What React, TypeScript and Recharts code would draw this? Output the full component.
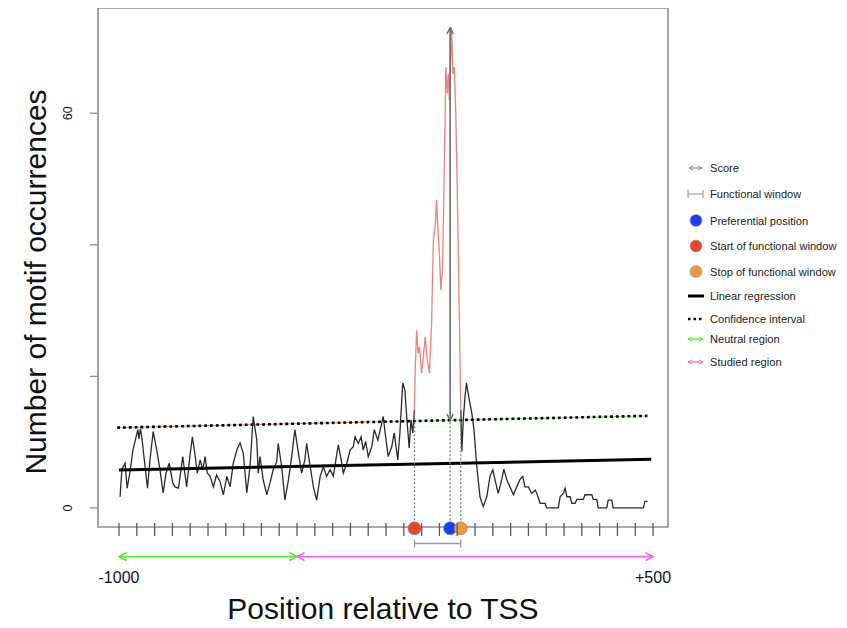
import React from 'react';
import {
  ComposedChart,
  Line,
  XAxis,
  YAxis,
  ReferenceLine,
  ReferenceDot,
  ReferenceArea,
  Legend,
  Label,
} from 'recharts';

const FONT = '"Liberation Sans", Arial, Helvetica, sans-serif';

// Motif occurrence profile: position relative to the TSS (bp) and occurrences
const profilePos = [
  -997, -992, -983, -977, -969, -961, -947, -944, -940, -936, -932, -920, -913, -904, -894, -885,
  -876, -868, -859, -849, -843, -833, -821, -810, -801, -794, -787, -780, -772, -765, -758, -752,
  -744, -735, -726, -716, -707, -697, -688, -679, -669, -660, -651, -641, -632, -623, -613, -609,
  -604, -595, -585, -576, -567, -557, -553, -543, -534, -524, -515, -506, -496, -487, -478, -473,
  -463, -454, -445, -435, -426, -417, -407, -398, -388, -384, -376, -370, -360, -351, -342, -337,
  -328, -320, -314, -307, -300, -290, -283, -273, -264, -258, -251, -244, -234, -227, -217, -211,
  -203, -197, -192, -185, -180, -175, -170,
  -168, -164, -160, -156, -150, -145, -140, -134, -128, -122, -117, -112, -108, -104, -100, -96,
  -91, -86, -82, -78, -75, -72, -69, -66, -62, -58, -54, -51, -47, -40,
  -37, -33, -28, -24, -16, -9, -3, 5, 14, 23, 33, 42, 50, 56, 65, 75, 81, 89, 98, 108, 117, 126,
  134, 140, 150, 159, 169, 175, 183, 197, 201, 234, 239, 248, 253, 258, 267, 272, 281, 286, 304,
  309, 328, 332, 342, 346, 370, 374, 384, 388, 473, 477, 484,
];
const profileCount = [
  1.7, 5.8, 6.8, 3.0, 5.5, 8.8, 11.9, 10.5, 12.0, 10.8, 8.8, 3.0, 7.3, 11.6, 8.8, 5.8,
  2.3, 5.3, 6.8, 3.8, 3.2, 3.0, 7.8, 3.2, 7.8, 10.8, 8.3, 5.3, 7.3, 5.8, 7.8, 5.3,
  4.8, 3.2, 5.0, 4.0, 2.0, 4.8, 3.2, 6.8, 8.8, 9.9, 8.3, 2.3, 6.3, 13.9, 10.3, 5.3,
  7.8, 4.3, 2.0, 3.8, 5.8, 7.0, 9.8, 6.3, 1.2, 4.3, 7.8, 11.9, 8.3, 5.3, 7.3, 9.8,
  6.3, 3.2, 1.2, 4.8, 6.3, 4.8, 5.8, 4.8, 8.3, 9.6, 7.3, 5.3, 6.8, 8.8, 9.3, 10.8,
  9.8, 10.8, 8.8, 10.1, 7.8, 9.3, 11.9, 10.3, 12.4, 13.9, 10.8, 7.8, 9.3, 11.4, 7.3, 11.4,
  19.0, 17.9, 13.9, 9.1, 13.4, 11.4, 14.9,
  21.0, 27.0, 23.5, 24.5, 20.5, 23.0, 26.0, 22.5, 20.5, 28.0, 40.7, 43.0, 46.8, 42.0, 38.7, 33.1,
  36.7, 52.9, 67.0, 63.0, 66.0, 62.0, 67.0, 73.0, 66.0, 67.0, 60.0, 51.4, 39.0, 14.9,
  8.6, 13.5, 17.0, 19.0, 16.4, 14.4, 11.9, 6.3, 1.7, 0.2, 1.7, 4.8, 5.8, 4.3, 2.2, 4.3, 5.9, 4.3, 3.2, 2.0, 3.2, 4.3,
  4.8, 3.2, 3.2, 2.2, 2.7, 2.0, 0.7, 0.7, 0, 0, 1.7, 2.2, 3.0, 1.7, 1.7, 0.7, 0.7, 1.3, 1.3,
  2.0, 2.0, 1.3, 1.3, 0, 0, 1.2, 1.2, 0, 0, 1.0, 1.0,
];

// Functional window and preferential position (bp)
const windowStart = -170;
const windowStop = -40;
const preferentialPos = -70;

// Linear regression and upper confidence bound
const regressionPos = [-1000, 495];
const regressionCount = [5.75, 7.4];
const confidencePos = [-1005, 484];
const confidenceCount = [12.2, 14.0];
const confidenceColourSplit = -300;

// Neutral and studied regions (bp)
const neutralRegion = [-1000, -500];
const studiedRegion = [-500, 500];

// Axis ticks and their labels
const xTicks = [
  -1000, -950, -900, -850, -800, -750, -700, -650, -600, -550, -500, -450, -400, -350, -300, -250,
  -200, -150, -100, -50, 0, 50, 100, 150, 200, 250, 300, 350, 400, 450, 500,
];
const xTickLabels: Record<string, string> = { '-1000': '-1000', '500': '+500' };
const yTicks = [0, 20, 40, 60];
const yTickLabels: Record<string, string> = { '0': '0', '60': '60' };

const legendLabels = [
  'Score',
  'Functional window',
  'Preferential position',
  'Start of functional window',
  'Stop of functional window',
  'Linear regression',
  'Confidence interval',
  'Neutral region',
  'Studied region',
];

// ---- layout ----
const X_DOMAIN: [number, number] = [-1059, 542];
const Y_DOMAIN: [number, number] = [-2.9, 76];
// vertical placement (count units) of marks drawn below the plot frame
const DOT_Y = -3.1;
const BRACKET_Y = -5.4;
const REGION_Y = -7.4;

const COL = {
  curve: '#2a2a2a',
  peak: '#ee4a3a',
  frame: '#8e8e8e',
  score: '#6a6a6a',
  guide: '#7a7a7a',
  bracket: '#9a9a9a',
  blue: '#1d3cf5',
  red: '#e8442e',
  orange: '#f0993c',
  green: '#52ee2c',
  magenta: '#ef68ef',
};

const profile = profilePos.map((pos, i) => ({ pos, count: profileCount[i] }));
const upstream = profile.filter((d) => d.pos <= windowStart);
const functional = profile.filter((d) => d.pos >= windowStart && d.pos <= windowStop);
const downstream = profile.filter((d) => d.pos >= windowStop);

const regression = regressionPos.map((pos, i) => ({ pos, count: regressionCount[i] }));
const confidence = confidencePos.map((pos, i) => ({ pos, count: confidenceCount[i] }));

const confidenceAt = (pos: number) =>
  confidenceCount[0] +
  ((confidenceCount[1] - confidenceCount[0]) * (pos - confidencePos[0])) /
    (confidencePos[1] - confidencePos[0]);
const countAt = (pos: number) => profile.find((d) => d.pos === pos)?.count ?? 0;

const confidenceLeft = [confidence[0], { pos: confidenceColourSplit, count: confidenceAt(confidenceColourSplit) }];
const confidenceRight = [{ pos: confidenceColourSplit, count: confidenceAt(confidenceColourSplit) }, confidence[1]];

const peakCount = Math.max(...profileCount);

const XTick = (props: any) => {
  const { x, y, payload } = props;
  const label = xTickLabels[String(payload.value)];
  return (
    <g>
      <line x1={x} x2={x} y1={y - 4} y2={y + 9} stroke="#5a5a5a" strokeWidth={1.3} />
      {label && (
        <text x={x} y={y + 56} textAnchor="middle" fontSize={16} fontFamily={FONT} fill="#111">
          {label}
        </text>
      )}
    </g>
  );
};

const YTick = (props: any) => {
  const { x, y, payload } = props;
  const label = yTickLabels[String(payload.value)];
  if (!label) return <g />;
  return (
    <text
      x={x}
      y={y}
      transform={`rotate(-90 ${x} ${y})`}
      textAnchor="middle"
      fontSize={12.5}
      fontFamily={FONT}
      fill="#111"
    >
      {label}
    </text>
  );
};

const XTitle = (props: any) => {
  const vb = props.viewBox;
  return (
    <text x={vb.x + vb.width / 2} y={619} textAnchor="middle" fontSize={30} fontFamily={FONT} fill="#111">
      Position relative to TSS
    </text>
  );
};

const YTitle = () => (
  <text x={46} y={282} transform="rotate(-90 46 282)" textAnchor="middle" fontSize={30} fontFamily={FONT} fill="#111">
    Number of motif occurrences
  </text>
);

const doubleArrow = (marker: string, colour: string, width: number) => (p: any) => (
  <line
    x1={p.x1}
    y1={p.y1}
    x2={p.x2}
    y2={p.y2}
    stroke={colour}
    strokeWidth={width}
    markerStart={`url(#${marker})`}
    markerEnd={`url(#${marker})`}
  />
);

const legendRowY = [18, 44, 70.5, 96, 121.5, 146, 169, 189, 212];

const legendIcon = (i: number, cy: number) => {
  const x0 = 8;
  const x1 = 23;
  switch (i) {
    case 0:
      return <line x1={x0 + 1} x2={x1 - 1} y1={cy} y2={cy} stroke="#8a8a8a" strokeWidth={1.2} markerStart="url(#mk-lg-grey)" markerEnd="url(#mk-lg-grey)" />;
    case 1:
      return (
        <g stroke="#a0a0a0" strokeWidth={1.2}>
          <line x1={x0} x2={x1} y1={cy} y2={cy} />
          <line x1={x0} x2={x0} y1={cy - 4} y2={cy + 4} />
          <line x1={x1} x2={x1} y1={cy - 4} y2={cy + 4} />
        </g>
      );
    case 2:
      return <circle cx={16} cy={cy} r={6} fill={COL.blue} stroke="#999" strokeWidth={0.6} />;
    case 3:
      return <circle cx={16} cy={cy} r={6} fill={COL.red} stroke="#999" strokeWidth={0.6} />;
    case 4:
      return <circle cx={16} cy={cy} r={6} fill={COL.orange} stroke="#999" strokeWidth={0.6} />;
    case 5:
      return <line x1={x0} x2={x1 + 1} y1={cy} y2={cy} stroke="#000" strokeWidth={3} />;
    case 6:
      return <line x1={x0} x2={x1 + 1} y1={cy} y2={cy} stroke="#000" strokeWidth={2.5} strokeDasharray="2.5 3" />;
    case 7:
      return <line x1={x0} x2={x1} y1={cy} y2={cy} stroke={COL.green} strokeWidth={1.3} markerStart="url(#mk-lg-green)" markerEnd="url(#mk-lg-green)" />;
    default:
      return <line x1={x0} x2={x1} y1={cy} y2={cy} stroke={COL.magenta} strokeWidth={1.3} markerStart="url(#mk-lg-magenta)" markerEnd="url(#mk-lg-magenta)" />;
  }
};

const renderLegend = () => (
  <svg width={167} height={230} style={{ display: 'block', overflow: 'visible' }}>
    {legendLabels.map((label, i) => (
      <g key={label}>
        {legendIcon(i, legendRowY[i])}
        <text x={30} y={legendRowY[i] + 4} fontSize={11.1} fontFamily={FONT} fill="#222">
          {label}
        </text>
      </g>
    ))}
  </svg>
);

const chevron = (id: string, colour: string, size: number, width: number) => (
  <marker
    id={id}
    viewBox="0 0 10 10"
    refX={9.3}
    refY={5}
    markerWidth={size}
    markerHeight={size}
    markerUnits="userSpaceOnUse"
    orient="auto-start-reverse"
  >
    <path d="M2.5,1.5 L9.3,5 L2.5,8.5" fill="none" stroke={colour} strokeWidth={width} />
  </marker>
);

const MarkerDefs = () => (
  <svg width={0} height={0} style={{ position: 'absolute', left: 0, top: 0 }}>
    <defs>
      {chevron('mk-score', COL.score, 9, 1.6)}
      {chevron('mk-green', COL.green, 11, 1.4)}
      {chevron('mk-magenta', COL.magenta, 11, 1.4)}
      {chevron('mk-lg-grey', '#8a8a8a', 6, 1.6)}
      {chevron('mk-lg-green', COL.green, 6, 1.6)}
      {chevron('mk-lg-magenta', COL.magenta, 6, 1.6)}
      <marker
        id="mk-cap"
        viewBox="0 0 10 10"
        refX={5}
        refY={5}
        markerWidth={9}
        markerHeight={9}
        markerUnits="userSpaceOnUse"
        orient="auto"
      >
        <path d="M5,0.5 L5,9.5" stroke={COL.bracket} strokeWidth={1.4} />
      </marker>
    </defs>
  </svg>
);

export default function App() {
  return (
    <div style={{ position: 'relative', margin: '-8px 0 0 -8px', width: 847, height: 628, background: '#fff' }}>
      <MarkerDefs />
      <ComposedChart
        width={847}
        height={628}
        margin={{ top: 8, right: 179, bottom: 21, left: 8 }}
        style={{ fontFamily: FONT, overflow: 'visible' }}
      >
        <XAxis
          type="number"
          dataKey="pos"
          domain={X_DOMAIN}
          allowDataOverflow
          ticks={xTicks}
          interval={0}
          height={80}
          tickSize={0}
          tickMargin={0}
          axisLine={false}
          tickLine={false}
          tick={XTick}
        >
          <Label content={XTitle} />
        </XAxis>
        <YAxis
          type="number"
          domain={Y_DOMAIN}
          allowDataOverflow
          ticks={yTicks}
          interval={0}
          width={90}
          tickSize={8}
          tickMargin={18}
          axisLine={false}
          tickLine={{ stroke: COL.frame, strokeWidth: 1.3 }}
          tick={YTick}
        >
          <Label content={YTitle} />
        </YAxis>

        <ReferenceArea
          x1={X_DOMAIN[0]}
          x2={X_DOMAIN[1]}
          y1={Y_DOMAIN[0]}
          y2={Y_DOMAIN[1]}
          fill="none"
          stroke={COL.frame}
          strokeWidth={1.6}
          ifOverflow="visible"
        />

        {/* confidence bound: faint coloured trace beneath the dotted line */}
        <Line data={confidenceLeft} dataKey="count" stroke="#f08080" strokeWidth={1} dot={false} activeDot={false} isAnimationActive={false} />
        <Line data={confidenceRight} dataKey="count" stroke="#7be870" strokeWidth={1} dot={false} activeDot={false} isAnimationActive={false} />

        <Line data={upstream} dataKey="count" stroke={COL.curve} strokeWidth={1.3} dot={false} activeDot={false} isAnimationActive={false} />
        <Line data={downstream} dataKey="count" stroke={COL.curve} strokeWidth={1.3} dot={false} activeDot={false} isAnimationActive={false} />
        <Line data={functional} dataKey="count" stroke={COL.peak} strokeOpacity={0.7} strokeWidth={1.3} dot={false} activeDot={false} isAnimationActive={false} />

        <Line data={regression} dataKey="count" stroke="#000" strokeWidth={3} dot={false} activeDot={false} isAnimationActive={false} />
        <Line data={confidence} dataKey="count" stroke="#000" strokeWidth={2.6} strokeDasharray="2.8 3" dot={false} activeDot={false} isAnimationActive={false} />

        {/* guides from the window positions down to the axis */}
        <ReferenceLine
          segment={[{ x: windowStart, y: DOT_Y }, { x: windowStart, y: countAt(windowStart) }]}
          stroke={COL.guide}
          strokeWidth={1.3}
          strokeDasharray="2 2"
          ifOverflow="visible"
        />
        <ReferenceLine
          segment={[{ x: preferentialPos, y: DOT_Y }, { x: preferentialPos, y: confidenceAt(preferentialPos) }]}
          stroke={COL.guide}
          strokeWidth={1.3}
          strokeDasharray="2 2"
          ifOverflow="visible"
        />
        <ReferenceLine
          segment={[{ x: windowStop, y: DOT_Y }, { x: windowStop, y: countAt(windowStop) }]}
          stroke={COL.guide}
          strokeWidth={1.3}
          strokeDasharray="2 2"
          ifOverflow="visible"
        />

        {/* score: from the confidence bound up to the peak */}
        <ReferenceLine
          segment={[{ x: preferentialPos, y: confidenceAt(preferentialPos) }, { x: preferentialPos, y: peakCount }]}
          ifOverflow="visible"
          shape={doubleArrow('mk-score', COL.score, 1.6)}
        />

        {/* functional window bracket */}
        <ReferenceLine
          segment={[{ x: windowStart, y: BRACKET_Y }, { x: windowStop, y: BRACKET_Y }]}
          ifOverflow="visible"
          shape={(p: any) => (
            <line x1={p.x1} y1={p.y1} x2={p.x2} y2={p.y2} stroke={COL.bracket} strokeWidth={1.4} markerStart="url(#mk-cap)" markerEnd="url(#mk-cap)" />
          )}
        />

        {/* neutral and studied regions */}
        <ReferenceLine
          segment={[{ x: neutralRegion[0], y: REGION_Y }, { x: neutralRegion[1], y: REGION_Y }]}
          ifOverflow="visible"
          shape={doubleArrow('mk-green', COL.green, 1.8)}
        />
        <ReferenceLine
          segment={[{ x: studiedRegion[0], y: REGION_Y }, { x: studiedRegion[1], y: REGION_Y }]}
          ifOverflow="visible"
          shape={doubleArrow('mk-magenta', COL.magenta, 1.8)}
        />

        <ReferenceDot x={windowStart} y={DOT_Y} r={6.5} fill={COL.red} stroke="#8a8a8a" strokeWidth={0.7} ifOverflow="visible" />
        <ReferenceDot x={preferentialPos} y={DOT_Y} r={6.5} fill={COL.blue} stroke="#8a8a8a" strokeWidth={0.7} ifOverflow="visible" />
        <ReferenceDot x={windowStop} y={DOT_Y} r={6.5} fill={COL.orange} stroke="#8a8a8a" strokeWidth={0.7} ifOverflow="visible" />

        <Legend
          layout="vertical"
          align="center"
          verticalAlign="middle"
          content={renderLegend}
          wrapperStyle={{ position: 'absolute', left: 680, top: 150, width: 167, height: 230, margin: 0, padding: 0, overflow: 'visible' }}
        />
      </ComposedChart>
    </div>
  );
}
